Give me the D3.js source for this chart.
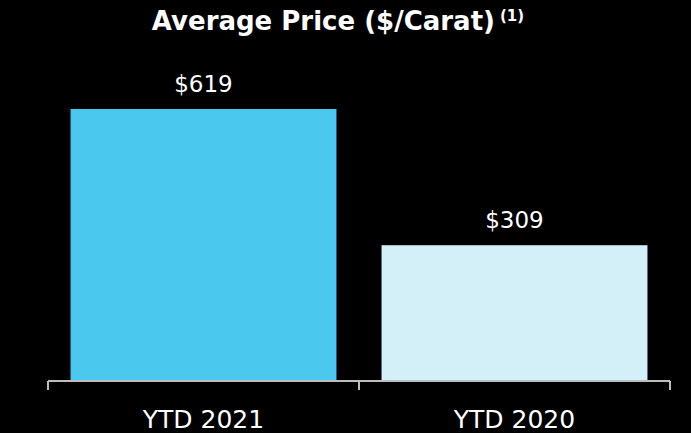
<!DOCTYPE html>
<html>
<head>
<meta charset="utf-8">
<script src="https://cdn.jsdelivr.net/npm/d3@7"></script>
<style>
  html, body { margin: 0; padding: 0; background: #000; }
  svg { display: block; }
  text { font-family: "DejaVu Sans", sans-serif; fill: #fff; }
</style>
</head>
<body>
<div id="chart"></div>
<script>
var categories = ["YTD 2021", "YTD 2020"];
var prices = [619, 309];
var priceLabels = ["$619", "$309"];
var barColors = ["#4ac8ee", "#d3f0f9"];

function drawPriceChart() {
  var width = 691,
      height = 433,
      baseY = 381;

  var svg = d3.select("#chart")
    .append("svg")
    .attr("width", width)
    .attr("height", height);

  var x = d3.scaleBand()
    .domain(categories)
    .range([48, 670])
    .paddingInner(0.145)
    .paddingOuter(0.0725);

  var y = d3.scaleLinear()
    .domain([0, 619])
    .range([baseY, 109]);

  // title
  var title = svg.append("text")
    .attr("x", 338)
    .attr("y", 30)
    .attr("text-anchor", "middle")
    .style("font-weight", "bold")
    .style("font-size", "26px");
  title.append("tspan").text("Average Price ($/Carat)");
  title.append("tspan")
    .attr("dx", 5)
    .attr("dy", -9)
    .style("font-size", "15px")
    .text("(1)");

  svg.selectAll("rect.bar")
    .data(prices)
    .enter().append("rect")
    .attr("class", "bar")
    .attr("x", function(d, i) { return x(categories[i]); })
    .attr("y", function(d) { return y(d); })
    .attr("width", x.bandwidth())
    .attr("height", function(d) { return baseY - y(d); })
    .style("fill", function(d, i) { return barColors[i]; });

  svg.selectAll("text.value")
    .data(prices)
    .enter().append("text")
    .attr("class", "value")
    .attr("x", function(d, i) { return x(categories[i]) + x.bandwidth() / 2; })
    .attr("y", function(d) { return y(d) - 17; })
    .attr("text-anchor", "middle")
    .style("font-size", "23px")
    .text(function(d, i) { return priceLabels[i]; });

  // axis line with ticks at band edges
  var edges = [x.range()[0]].concat(categories.map(function(c) { return x(c) + x.bandwidth() + x.step() * x.paddingInner() / 2; }));
  svg.append("line")
    .attr("x1", x.range()[0]).attr("x2", x.range()[1])
    .attr("y1", baseY).attr("y2", baseY)
    .style("stroke", "#bdbdbd").style("stroke-width", 2);
  svg.selectAll("line.tick")
    .data(edges)
    .enter().append("line")
    .attr("class", "tick")
    .attr("x1", function(d) { return d; }).attr("x2", function(d) { return d; })
    .attr("y1", baseY).attr("y2", baseY + 9)
    .style("stroke", "#bdbdbd").style("stroke-width", 2);

  svg.selectAll("text.cat")
    .data(categories)
    .enter().append("text")
    .attr("class", "cat")
    .attr("x", function(d) { return x(d) + x.bandwidth() / 2; })
    .attr("y", 428)
    .attr("text-anchor", "middle")
    .style("font-size", "25px")
    .text(function(d) { return d; });
}

drawPriceChart();
</script>
</body>
</html>
